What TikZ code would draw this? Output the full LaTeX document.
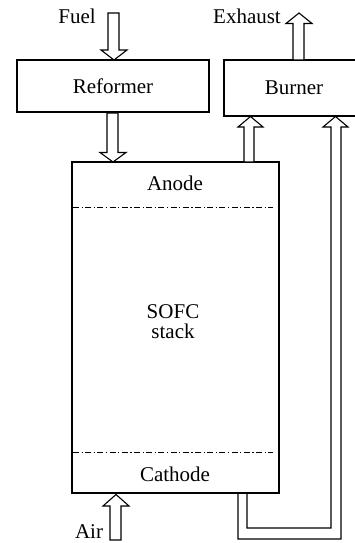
\documentclass[tikz,border=0pt]{standalone}
\usepackage{fontspec}
\setmainfont{Liberation Serif}
\begin{document}
\begin{tikzpicture}[x=1pt,y=-1pt,
  box/.style={draw, line width=1.1pt, fill=white, inner sep=0pt, font=\fontsize{21}{24}\selectfont},
  lbl/.style={font=\fontsize{21}{24}\selectfont, inner sep=0pt},
  blk/.style={draw, line width=1.1pt, fill=white, line join=miter},
  sep/.style={line width=1pt, dash pattern=on 6pt off 2.5pt on 1.2pt off 2.5pt}]
\useasboundingbox (0,0) rectangle (355,543);
\clip (0,0) rectangle (355,543);
% blocks
\node[box, minimum width=192pt, minimum height=52pt] (ref) at (113,86) {Reformer};
\node[box, minimum width=140pt, minimum height=56pt] (bur) at (294,88) {Burner};
\node[box, minimum width=207pt, minimum height=331pt] (stk) at (175.5,327.5) {};
\node[lbl] (an) at (175,183) {Anode};
\node[lbl, align=center, font=\fontsize{21}{20}\selectfont] (sofc) at (173,322) {SOFC\\stack};
\node[lbl] (ca) at (175,474) {Cathode};
\coordinate (d1l) at (73,207); \coordinate (d1r) at (273,207);
\coordinate (d2l) at (73,452); \coordinate (d2r) at (273,452);
\draw[sep] (d1l) -- (d1r);
\draw[sep] (d2l) -- (d2r);
% labels
\node[lbl] (fuel) at (77,16) {Fuel};
\node[lbl] (exh) at (247,16) {Exhaust};
\node[lbl, anchor=base] (air) at (89,538) {Air};
% fuel -> reformer
\draw[blk] (108,13) -- (119,13) -- (119,50) -- (127,50) -- (114,60) -- (101,50) -- (108,50) -- cycle;
% reformer -> stack
\draw[blk] (107,113) -- (118,113) -- (118,152.5) -- (126,152.5) -- (113,162) -- (100,152.5) -- (107,152.5) -- cycle;
% air -> stack
\draw[blk] (110,540) -- (121,540) -- (121,506) -- (129,506) -- (116,494.5) -- (103,506) -- (110,506) -- cycle;
% burner -> exhaust
\draw[blk] (293,60) -- (304,60) -- (304,23.5) -- (312,23.5) -- (299,13) -- (286,23.5) -- (293,23.5) -- cycle;
% anode -> burner
\draw[blk] (244,162) -- (254,162) -- (254,127) -- (263,127) -- (250.5,116.5) -- (238,127) -- (244,127) -- cycle;
% cathode -> burner (U tube)
\draw[blk, fill=none] (247,493) -- (247,528) -- (331,528) -- (331,127) -- (323,127) -- (335.5,116.5) -- (348,127) -- (341,127) -- (341,539) -- (238,539) -- (238,493);
\end{tikzpicture}
\end{document}
